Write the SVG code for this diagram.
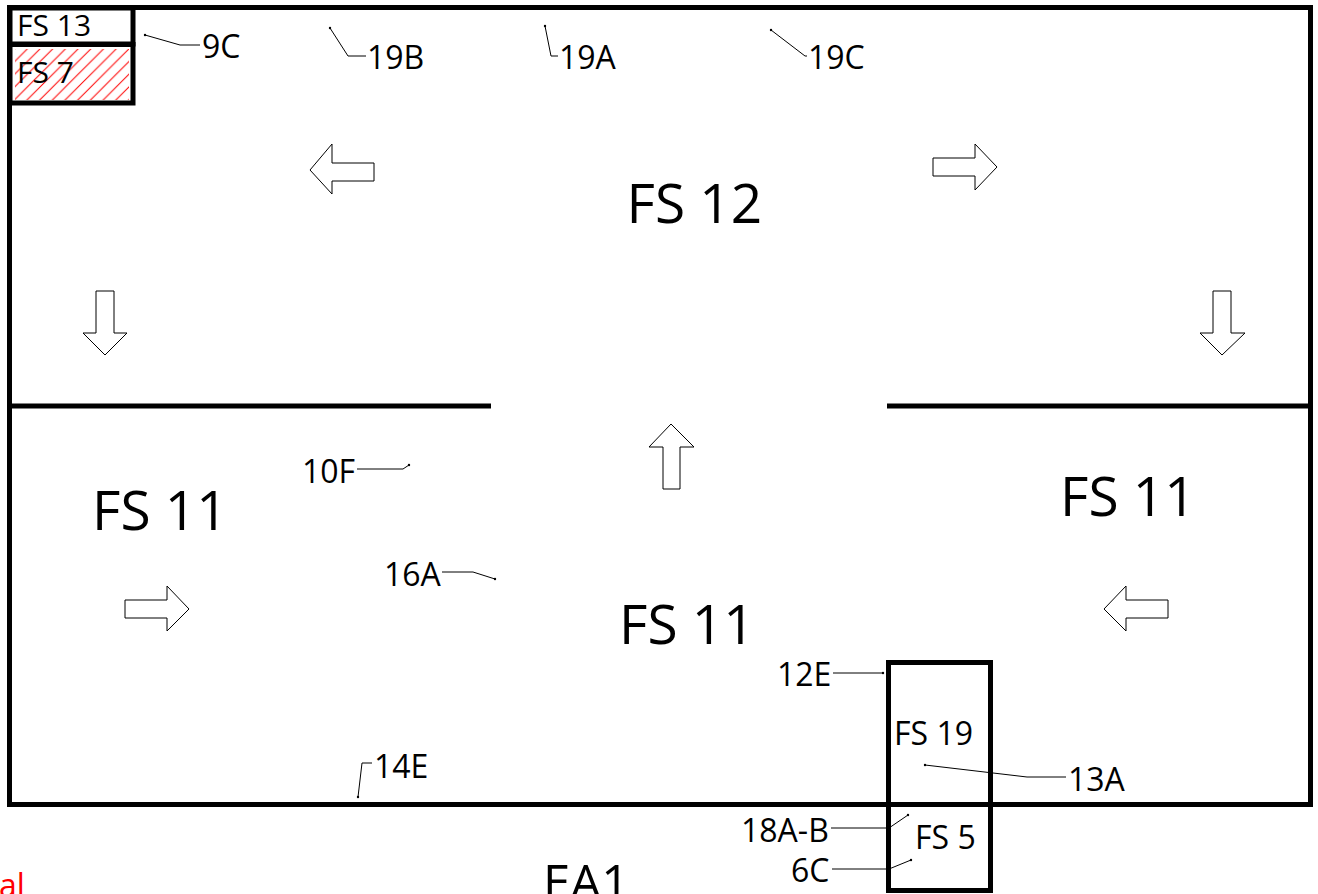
<svg xmlns="http://www.w3.org/2000/svg" width="1318" height="894" viewBox="0 0 1318 894">
<style>
text{font-family:"Open Sans","Noto Sans","DejaVu Sans",sans-serif;fill:#000}
.wall{fill:none;stroke:#000;stroke-width:5}
.lead{fill:none;stroke:#000;stroke-width:1;marker-start:url(#dot)}
.arrow{fill:#fff;stroke:#000;stroke-width:1}
.s30{font-size:30px}.s32{font-size:32px}.s55{font-size:55px}
</style>
<defs>
<marker id="dot" markerUnits="userSpaceOnUse" markerWidth="4" markerHeight="4" refX="2" refY="2"><circle cx="2" cy="2" r="1.2" fill="#000"/></marker>
<pattern id="hatch" patternUnits="userSpaceOnUse" width="12.7" height="12.7">
<path d="M-2 14.7L14.7 -2M-2 2L2 -2M10.7 14.7L14.7 10.7" stroke="#f00" stroke-width="1" fill="none"/>
</pattern>
</defs>
<rect width="1318" height="894" fill="#fff"/>
<g id="building">
<rect class="wall" x="9.5" y="7.5" width="1301" height="797"/>
<path class="wall" d="M9 406H491M887 406H1311"/>
</g>
<g id="fs13">
<rect class="wall" x="10" y="8" width="123" height="36"/>
<text class="s30" x="17" y="36">FS 13</text>
</g>
<g id="fs7">
<rect x="15" y="49" width="114" height="51" fill="url(#hatch)"/>
<rect class="wall" x="10" y="44.5" width="123" height="58.5"/>
<text class="s30" x="17" y="82.5">FS 7</text>
</g>
<g id="fs19">
<rect class="wall" x="888.5" y="662.5" width="102" height="142"/>
<text class="s32" x="894" y="745">FS 19</text>
</g>
<g id="fs5">
<rect class="wall" x="888.5" y="804.5" width="102" height="86"/>
<text class="s32" x="915" y="849">FS 5</text>
</g>
<g id="labels">
<text class="s55" x="626.5" y="223">FS 12</text>
<text class="s55" x="92" y="530">FS 11</text>
<text class="s55" x="1060" y="516">FS 11</text>
<text class="s55" x="619" y="644">FS 11</text>
<text class="s32" x="202" y="58">9C</text>
<text class="s32" x="367" y="69">19B</text>
<text class="s32" x="559" y="69">19A</text>
<text class="s32" x="808" y="69">19C</text>
<text class="s32" x="302" y="483">10F</text>
<text class="s32" x="384" y="586">16A</text>
<text class="s32" x="777" y="686">12E</text>
<text class="s32" x="374" y="778">14E</text>
<text class="s32" x="1068" y="791">13A</text>
<text class="s32" x="741" y="842">18A-B</text>
<text class="s32" x="791" y="882">6C</text>
<text x="543" y="900" font-size="49">EA1</text>
<text x="-1" y="897" font-size="32" style="fill:#f00">al</text>
</g>
<g id="connectors">
<path class="lead" d="M145 35L180 45H200"/>
<path class="lead" d="M330 28L348 56H366"/>
<path class="lead" d="M545 26L551 56H558"/>
<path class="lead" d="M771 30L805 56H807"/>
<path class="lead" d="M409 465L403 469H357"/>
<path class="lead" d="M495 579L473 572H442"/>
<path class="lead" d="M883 673H833"/>
<path class="lead" d="M358 797L362 763H372"/>
<path class="lead" d="M925 765L1027 777H1066"/>
<path class="lead" d="M908 815L889 828H831"/>
<path class="lead" d="M911 860L889 869H832"/>
</g>
<g id="flow-arrows">
<path class="arrow" d="M374 163H332V144L310 170L332 194V181H374Z"/>
<path class="arrow" d="M933 158H975V144L997 167L975 190V176H933Z"/>
<path class="arrow" d="M96 291H114V333H127L105 355L83 333H96Z"/>
<path class="arrow" d="M1213 291H1231V333H1245L1222 355L1200 333H1213Z"/>
<path class="arrow" d="M663 489H680V447H694L671 424L649 447H663Z"/>
<path class="arrow" d="M125 600H167V586L189 609L167 631V618H125Z"/>
<path class="arrow" d="M1168 600H1126V586L1104 609L1126 631V618H1168Z"/>
</g>
</svg>
